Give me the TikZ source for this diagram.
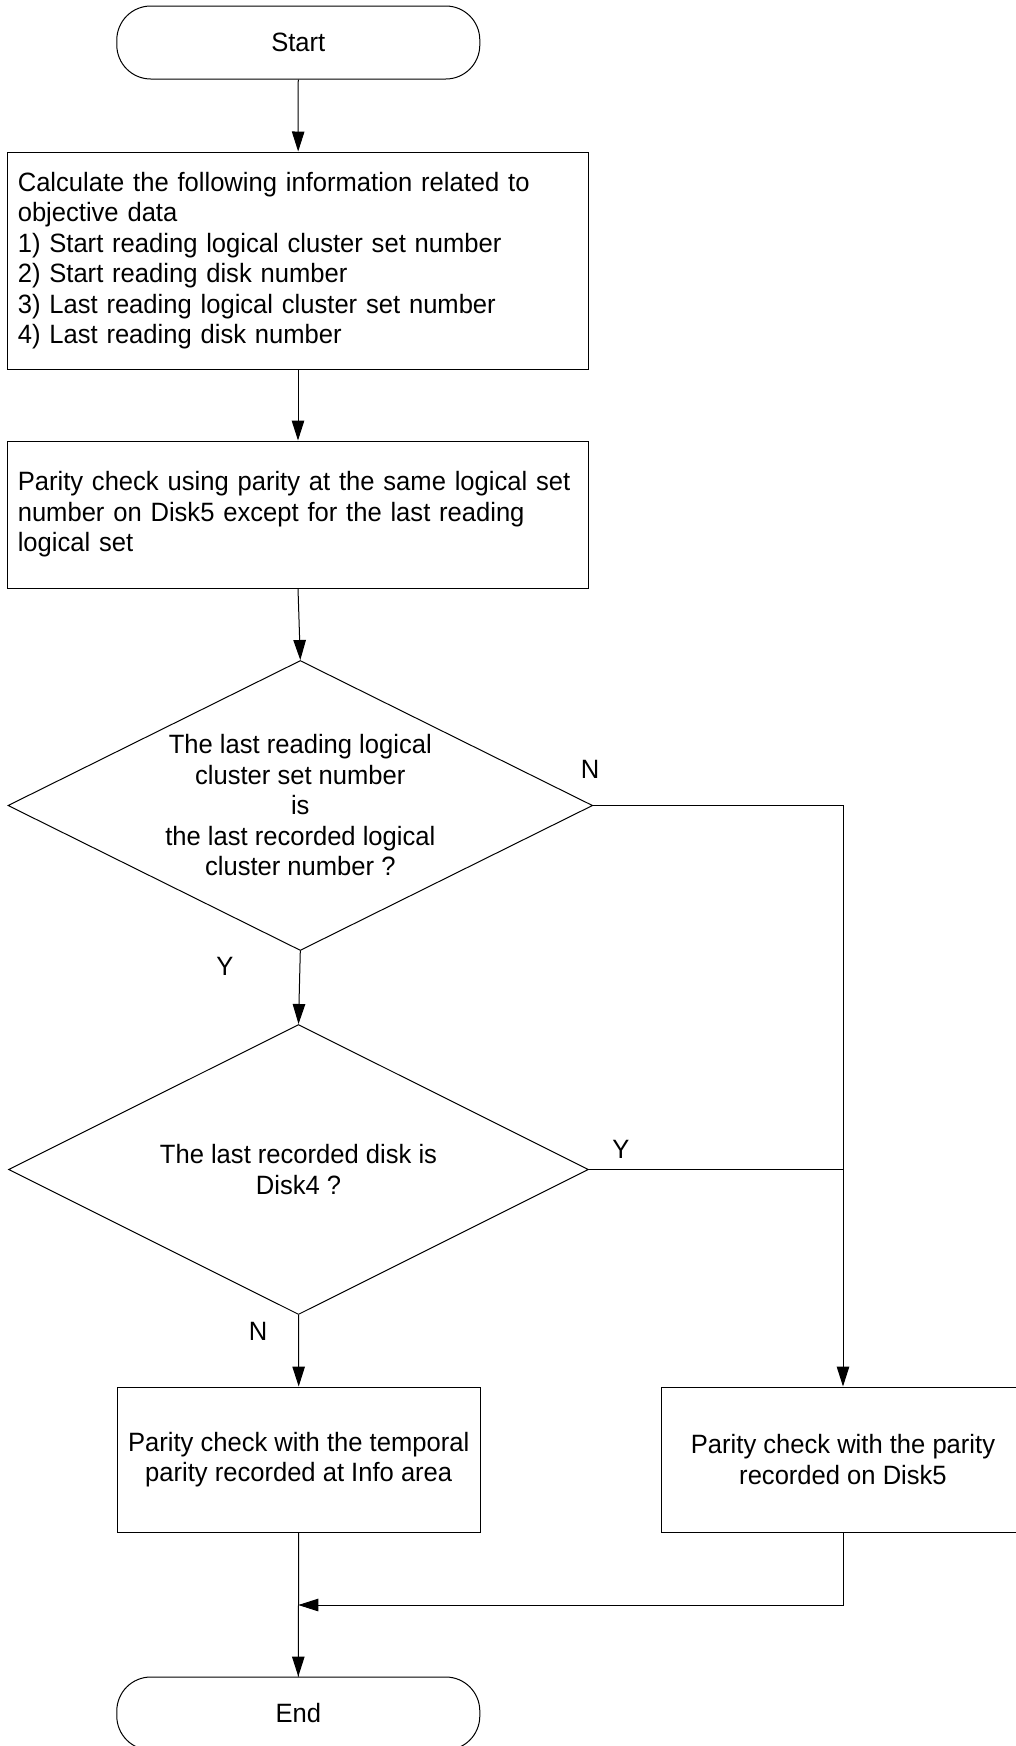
\documentclass[tikz,border=0pt]{standalone}
\usepackage{fontspec}
\setmainfont[FakeStretch=0.965]{Liberation Sans}
\usetikzlibrary{shapes.geometric,arrows.meta}
\begin{document}
\begin{tikzpicture}[x=1pt,y=-1pt,
  every node/.style={font=\fontsize{26.5}{30.5}\selectfont, text=black},
  line/.style={draw=black, line width=1pt},
  arr/.style={line, -{Triangle[length=20pt,width=12.5pt]}},
  term/.style={line, rectangle, rounded corners=34pt, minimum width=363pt, minimum height=73pt, inner sep=0pt},
  procbox/.style={line, rectangle, inner xsep=10.5pt, inner ysep=0pt, align=left, text width=560.4pt, minimum height=#1},
  ctrbox/.style={line, rectangle, inner sep=0pt, align=center, minimum width=363pt, minimum height=145pt},
  decision/.style={line, diamond, aspect=2, inner sep=0pt, align=center},
  lbl/.style={inner sep=0pt}
]
\clip (0,0) rectangle (1016,1746);
\fill[white] (0,0) rectangle (1016,1746);

\node[term] (start) at (298.3,42.5) {Start};
\node[procbox=217pt] (box1) at (298,260.5) {Calculate the following information related to\\objective data\\1) Start reading logical cluster set number\\2) Start reading disk number\\3) Last reading logical cluster set number\\4) Last reading disk number};
\node[procbox=147pt] (box2) at (298,514.5) {Parity check using parity at the same logical set\\number on Disk5 except for the last reading\\logical set};
\node[decision, minimum width=584.7pt, minimum height=290pt] (d1) at (300.3,805.5) {The last reading logical\\cluster set number\\is\\the last recorded logical\\cluster number ?};
\node[decision, minimum width=580pt, minimum height=290pt] (d2) at (298.5,1169.5) {The last recorded disk is\\Disk4 ?};
\node[ctrbox] (boxL) at (298.7,1459.5) {Parity check with the temporal\\parity recorded at Info area};
\node[ctrbox] (boxR) at (843,1459.5) {Parity check with the parity\\recorded on Disk5};
\node[term] (end) at (298.3,1713.5) {End};

\node[lbl] (n1) at (590,769) {N};
\node[lbl] (y1) at (225,966) {Y};
\node[lbl] (y2) at (621,1149.5) {Y};
\node[lbl] (n2) at (258,1331) {N};

\coordinate (merge) at (298.3,1605);

\draw[arr] (start) -- (box1);
\draw[arr] (box1) -- (box2);
\draw[arr] (box2.south) -- (d1.north);
\draw[arr] (d1.south) -- (d2.north);
\draw[arr] (d1.east) -| (boxR.north);
\draw[line] (d2.east) -- (d2.east -| boxR.north);
\draw[arr] (d2.south) -- (boxL.north);
\draw[line] (boxL.south) -- (end.north);
\draw[arr] (merge) -- (end.north);
\draw[arr] (boxR.south) |- (merge);
\end{tikzpicture}
\end{document}
